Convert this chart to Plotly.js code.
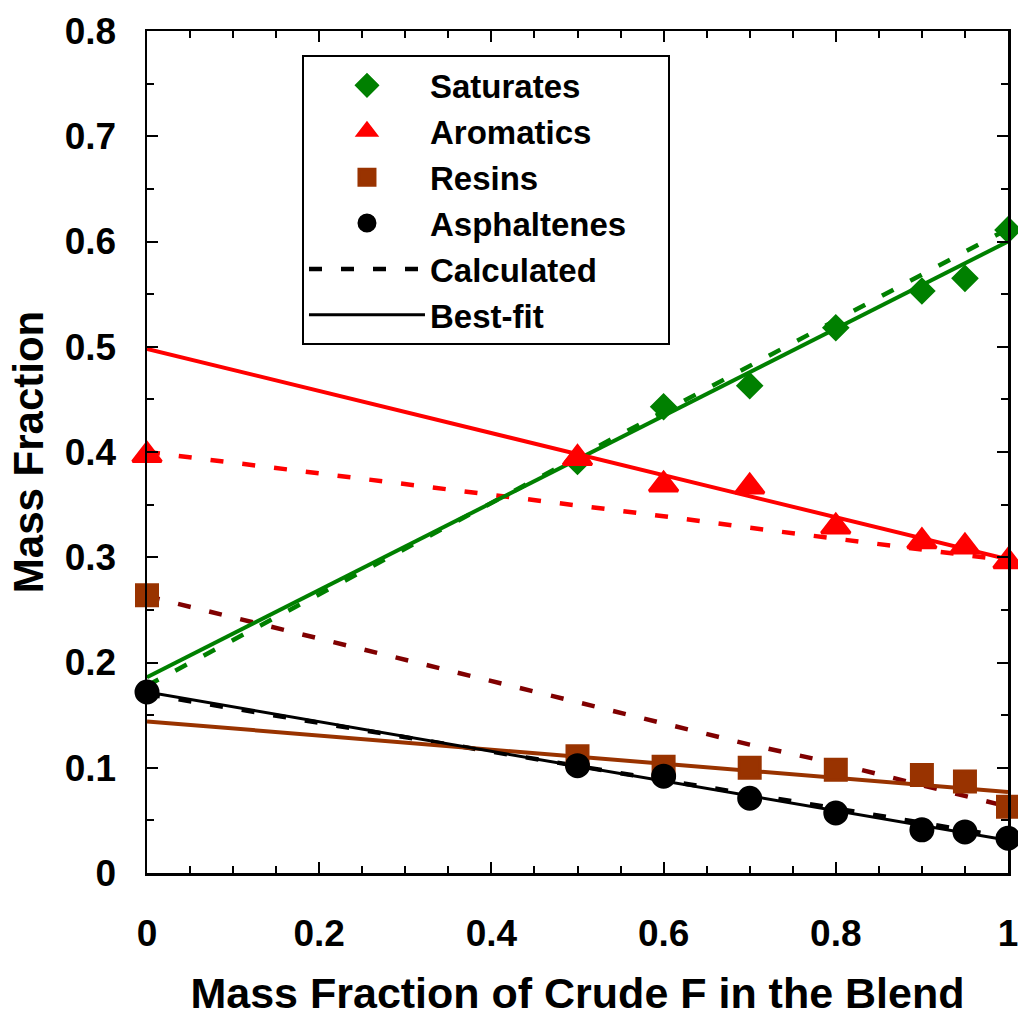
<!DOCTYPE html>
<html>
<head>
<meta charset="utf-8">
<script src="https://cdn.plot.ly/plotly-3.0.1.min.js"></script>
<style>
html,body{margin:0;padding:0;background:#ffffff;}
#chart{width:1018px;height:1017px;}
</style>
</head>
<body>
<div id="chart"></div>
<script>
// Measured blend compositions (mass fraction of crude F)
const blendX = [0, 0.5, 0.6, 0.7, 0.8, 0.9, 0.95, 1.0];
const saturatesX = [0.5, 0.6, 0.7, 0.8, 0.9, 0.95, 1.0];
const saturates = [0.391, 0.443, 0.463, 0.518, 0.553, 0.565, 0.611];
const aromatics = [0.397, 0.394, 0.369, 0.367, 0.329, 0.315, 0.310, 0.296];
const resins = [0.264, 0.111, 0.101, 0.100, 0.098, 0.093, 0.087, 0.063];
const asphaltenes = [0.172, 0.102, 0.092, 0.071, 0.057, 0.041, 0.039, 0.033];

// Calculated (mixing rule) curves
const calcX = [0, 0.5, 0.6, 0.7, 0.8, 0.9, 0.95, 1.0];
const saturatesCalc = [0.178, 0.395, 0.439, 0.482, 0.525, 0.569, 0.590, 0.612];
const aromaticsCalc = [0.400, 0.350, 0.339, 0.328, 0.318, 0.308, 0.303, 0.297];
const resinsCalc = [0.263, 0.163, 0.143, 0.122, 0.104, 0.083, 0.073, 0.063];
const asphaltenesCalc = [0.170, 0.101, 0.088, 0.075, 0.061, 0.047, 0.040, 0.034];

// Best-fit straight lines (end points)
const fitX = [0, 1];
const saturatesFit = [0.186, 0.600];
const aromaticsFit = [0.498, 0.298];
const resinsFit = [0.144, 0.077];
const asphaltenesFit = [0.172, 0.031];

const seriesNames = ['Saturates', 'Aromatics', 'Resins', 'Asphaltenes', 'Calculated', 'Best-fit'];
const xTitle = 'Mass Fraction of Crude F in the Blend';
const yTitle = 'Mass Fraction';

const FONT = 'Liberation Sans, Arial, Helvetica, sans-serif';
const GREEN = '#008000', RED = '#ff0000', BROWN = '#993300', DARKRED = '#800000', BLACK = '#000000';
const DASH = '13px,19px';
const PAD = '\u00a0\u00a0\u00a0\u00a0';

function line(x, y, color, dash, width, name, show, rank) {
  return {x: x, y: y, type: 'scatter', mode: 'lines', name: name || '',
    showlegend: !!show, legendrank: rank || 1000, cliponaxis: false,
    line: {color: color, width: width, dash: dash}, hoverinfo: 'skip'};
}
function pts(x, y, color, symbol, size, name, rank) {
  return {x: x, y: y, type: 'scatter', mode: 'markers', name: name,
    showlegend: true, legendrank: rank, cliponaxis: false,
    marker: {color: color, symbol: symbol, size: size, line: {color: color, width: 3}}};
}

const traces = [
  line(calcX, saturatesCalc, GREEN, DASH, 4.5),
  line(calcX, aromaticsCalc, RED, DASH, 4.5),
  line(calcX, resinsCalc, DARKRED, DASH, 4.5),
  line(calcX, asphaltenesCalc, BLACK, DASH, 4.5, seriesNames[4], true, 5),
  line(fitX, saturatesFit, GREEN, 'solid', 4),
  line(fitX, aromaticsFit, RED, 'solid', 4),
  line(fitX, resinsFit, BROWN, 'solid', 4),
  line(fitX, asphaltenesFit, BLACK, 'solid', 3, seriesNames[5], true, 6),
  pts(saturatesX, saturates, GREEN, 'diamond', 18, seriesNames[0], 1),
  pts(blendX, aromatics, RED, 'triangle-up', 25, seriesNames[1], 2),
  pts(blendX, resins, BROWN, 'square', 21, seriesNames[2], 3),
  pts(blendX, asphaltenes, BLACK, 'circle', 22, seriesNames[3] + PAD, 4)
];

const axisCommon = {
  showline: true, linecolor: BLACK, linewidth: 2.5, mirror: 'allticks',
  ticks: 'inside', ticklen: 11, tickwidth: 2, tickcolor: BLACK,
  showgrid: false, zeroline: false, automargin: false, ticklabeloverflow: 'allow',
  tickfont: {family: FONT, size: 37, color: BLACK, weight: 'bold'},
  minor: {ticks: 'inside', ticklen: 7, tickwidth: 2, tickcolor: BLACK, showgrid: false}
};

const layout = {
  width: 1018, height: 1017,
  paper_bgcolor: '#ffffff', plot_bgcolor: '#ffffff',
  margin: {l: 147, r: 10, t: 31, b: 144, pad: 0},
  showlegend: true,
  legend: {
    x: 0.18, y: 0.971, xanchor: 'left', yanchor: 'top',
    bgcolor: '#ffffff', bordercolor: BLACK, borderwidth: 2,
    font: {family: FONT, size: 33, color: BLACK, weight: 'bold'},
    itemwidth: 116, traceorder: 'normal'
  },
  xaxis: Object.assign({}, axisCommon, {
    range: [0, 1], tick0: 0, dtick: 0.2, ticklabelstandoff: 26,
    minor: Object.assign({}, axisCommon.minor, {dtick: 0.05}),
    title: {text: xTitle, standoff: 25, font: {family: FONT, size: 43, color: BLACK, weight: 'bold'}}
  }),
  yaxis: Object.assign({}, axisCommon, {
    range: [0, 0.8], tick0: 0, dtick: 0.1, ticklabelstandoff: 21,
    minor: Object.assign({}, axisCommon.minor, {dtick: 0.05}),
    title: {text: yTitle, standoff: 8, font: {family: FONT, size: 42, color: BLACK, weight: 'bold'}}
  })
};

Plotly.newPlot('chart', traces, layout, {staticPlot: true, displayModeBar: false});
</script>
</body>
</html>
